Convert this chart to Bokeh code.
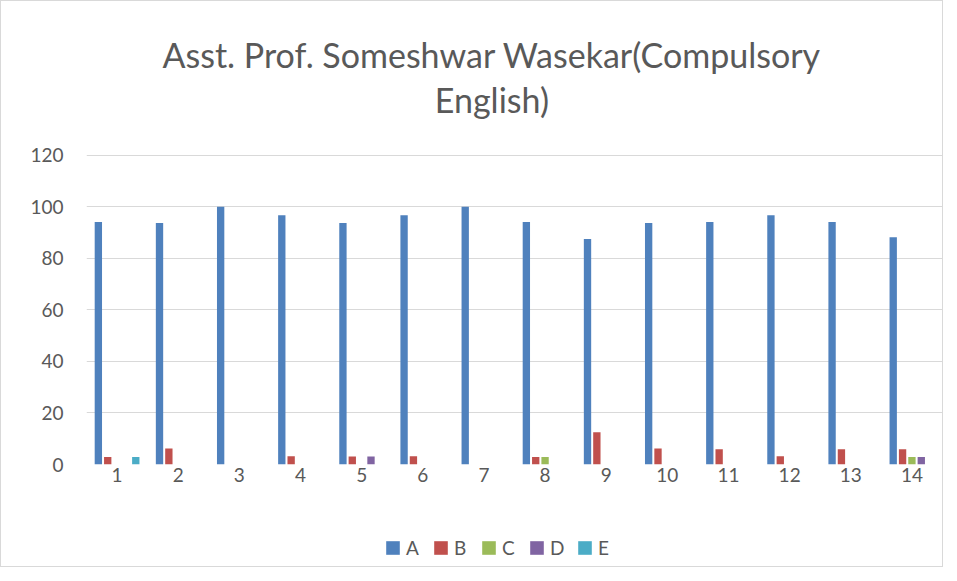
from bokeh.plotting import figure
from bokeh.layouts import column
from bokeh.models import ColumnDataSource, FactorRange, Range1d, Label, FixedTicker, Legend
from bokeh.transform import dodge
from bokeh.embed import file_html
from bokeh.resources import INLINE

categories = [str(i) for i in range(1, 15)]
series_names = ["A", "B", "C", "D", "E"]
A = [94.12, 93.75, 100, 96.77, 93.75, 96.77, 100, 94.12, 87.5, 93.75, 94.12, 96.77, 94.12, 88.24]
B = [2.94, 6.25, 0, 3.23, 3.125, 3.23, 0, 2.94, 12.5, 6.25, 5.88, 3.23, 5.88, 5.88]
C = [0, 0, 0, 0, 0, 0, 0, 2.94, 0, 0, 0, 0, 0, 2.94]
D = [0, 0, 0, 0, 3.125, 0, 0, 0, 0, 0, 0, 0, 0, 2.94]
E = [2.94, 0, 0, 0, 0, 0, 0, 0, 0, 0, 0, 0, 0, 0]
y_ticks = [0, 20, 40, 60, 80, 100, 120]
colors = ["#4f81bd", "#c0504d", "#9bbb59", "#8064a2", "#4bacc6"]
title_lines = ["Asst. Prof. Someshwar Wasekar(Compulsory", "English)"]

source = ColumnDataSource(dict(cat=categories, A=A, B=B, C=C, D=D, E=E))

FONT = "Lato"
GREY = "#595959"

p = figure(x_range=FactorRange(*categories, range_padding=0), y_range=Range1d(0, 179.7),
           width=941, height=519, output_backend="svg", toolbar_location=None,
           min_border_left=85, min_border_right=0, min_border_top=0, min_border_bottom=56)
p.outline_line_color = None
p.background_fill_color = "white"

offsets = [-0.306, -0.153, 0.0, 0.153, 0.306]
for name, col, off in zip(series_names, colors, offsets):
    p.vbar(x=dodge("cat", off, range=p.x_range), top=name, width=0.12, source=source,
           fill_color=col, line_color=None)

p.yaxis.ticker = FixedTicker(ticks=y_ticks)
for ax in (p.xaxis[0], p.yaxis[0]):
    ax.axis_line_color = None
    ax.major_tick_line_color = None
    ax.minor_tick_line_color = None
    ax.major_tick_out = 0
    ax.major_tick_in = 0
    ax.major_label_text_font = FONT
    ax.major_label_text_font_size = "19px"
    ax.major_label_text_color = GREY
p.yaxis.major_label_standoff = 23
p.xaxis.major_label_standoff = 3
p.xgrid.grid_line_color = None
p.ygrid.grid_line_color = "#d9d9d9"
p.ygrid.grid_line_width = 1.2

for txt, yv in zip(title_lines, [159.2, 141.5]):
    p.add_layout(Label(x=6.63, y=yv, text=txt, text_align="center", text_baseline="alphabetic",
                       text_font=FONT, text_font_size="34px", text_color=GREY))

# legend strip below the chart
lf = figure(x_range=Range1d(0, 1), y_range=Range1d(0, 1), width=941, height=46,
            output_backend="svg", toolbar_location=None,
            min_border_left=0, min_border_right=0, min_border_top=0, min_border_bottom=0)
lf.axis.visible = False
lf.grid.visible = False
lf.outline_line_color = None
items = []
for name, col in zip(series_names, colors):
    r = lf.vbar(x=[5], top=[5], bottom=[4], width=0.1, fill_color=col, line_color=None)
    items.append((name, [r]))
lg = Legend(items=items, orientation="horizontal", location=(298, 7))
lg.border_line_color = None
lg.background_fill_alpha = 0
lg.padding = 0
lg.margin = 0
lg.spacing = 6
lg.glyph_width = 17
lg.glyph_height = 17
lg.label_standoff = 5
lg.label_height = 20
lg.label_text_font = FONT
lg.label_text_font_size = "19px"
lg.label_text_color = GREY
lf.add_layout(lg)

layout = column(p, lf, spacing=0)
layout.styles = {"border": "1px solid #d9d9d9"}

open("out.html", "w").write(file_html(layout, INLINE))
